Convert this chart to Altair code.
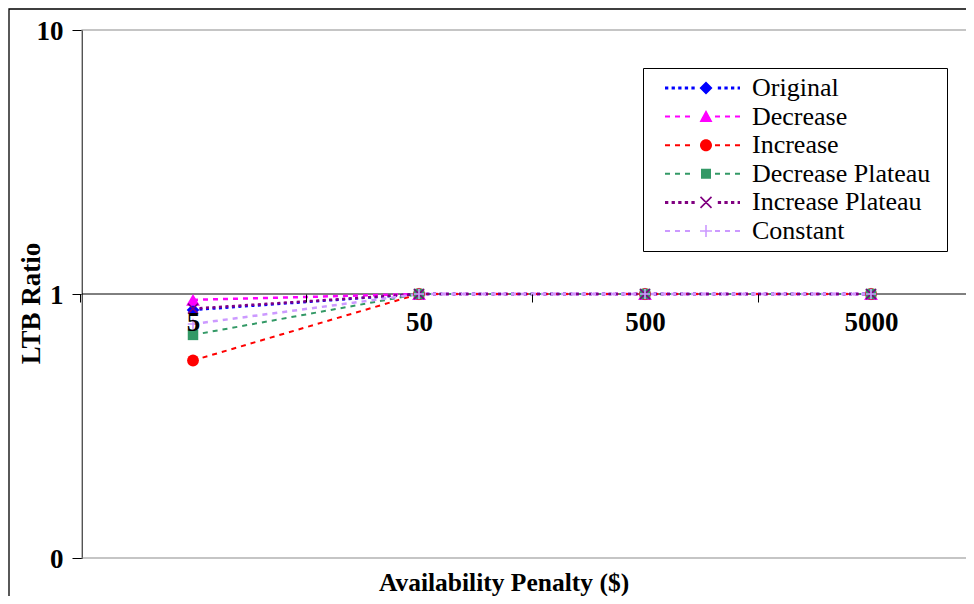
import math
import altair as alt
import pandas as pd

# ---------------- data ----------------
categories = ["5", "50", "500", "5000"]
series_names = ["Original", "Decrease", "Increase", "Decrease Plateau", "Increase Plateau", "Constant"]
original = [0.87, 1.0, 1.0, 1.0]
decrease = [0.95, 1.0, 1.0, 1.0]
increase = [0.56, 1.0, 1.0, 1.0]
decrease_plateau = [0.70, 1.0, 1.0, 1.0]
increase_plateau = [0.88, 1.0, 1.0, 1.0]
constant = [0.77, 1.0, 1.0, 1.0]
y_ticks = [0.1, 1, 10]
x_axis_crossing = 1.0

series_values = [original, decrease, increase, decrease_plateau, increase_plateau, constant]
rows = []
for name, vals in zip(series_names, series_values):
    for c, v in zip(categories, vals):
        rows.append({"penalty": c, "ratio": v, "series": name})
df = pd.DataFrame(rows)

# ---------------- styles ----------------
colors = ["#0000FF", "#FF00FF", "#FF0000", "#339966", "#800080", "#CC99FF"]
X_PATH = "M-1,-1L1,1M1,-1L-1,1"
PLUS_PATH = "M-1,0L1,0M0,-1L0,1"
marker_shape = ["diamond", "triangle-up", "circle", "square", X_PATH, PLUS_PATH]
marker_filled = [True, True, True, True, False, False]
marker_size = [160, 190, 140, 110, 100, 110]
line_dash = [[3, 3.5], [5, 5], [5, 5], [5, 5], [3, 3.5], [5, 5]]
line_width = [2.5, 2.5, 2, 2, 2.5, 2.5]
legend_dash = [(3.3, 3.3, 3.0), (5, 5, 2.0), (5, 5, 2.0), (5, 5, 2.0), (3.3, 3.3, 3.0), (5, 5, 2.0)]
legend_marker = ["diamond", "triangle", "circle", "square", "x", "plus"]

FONT = "Liberation Serif"
W, H = 884, 528

# legend symbol paths (line + marker), 1 unit = 10 px (symbol size 400)
U = 10.0
HALF = 3.75
M = 0.35
RIGHT_EXTENT = 23.75  # invisible bound so the legend box gets its right margin


def f(v):
    return f"{v:.3f}"


def rect(x0, x1, t):
    return f"M{f(x0)},{f(-t)}L{f(x1)},{f(-t)}L{f(x1)},{f(t)}L{f(x0)},{f(t)}Z"


def seg(p0, p1, w):
    dx, dy = p1[0] - p0[0], p1[1] - p0[1]
    L = math.hypot(dx, dy)
    nx, ny = -dy / L * w / 2, dx / L * w / 2
    pts = [(p0[0] + nx, p0[1] + ny), (p1[0] + nx, p1[1] + ny), (p1[0] - nx, p1[1] - ny), (p0[0] - nx, p0[1] - ny)]
    return "M" + "L".join(f"{f(a)},{f(b)}" for a, b in pts) + "Z"


def marker_path(kind):
    m = M
    if kind == "diamond":
        a = 0.65
        return f"M{f(m)},{f(-a)}L{f(m + a)},0L{f(m)},{f(a)}L{f(m - a)},0Z"
    if kind == "triangle":
        return f"M{f(m)},-0.65L{f(m + 0.65)},0.55L{f(m - 0.65)},0.55Z"
    if kind == "circle":
        r = 0.6
        return (f"M{f(m + r)},0A{r},{r} 0 1,1 {f(m - r)},0A{r},{r} 0 1,1 {f(m + r)},0Z")
    if kind == "square":
        return f"M{f(m - 0.5)},-0.5L{f(m + 0.5)},-0.5L{f(m + 0.5)},0.5L{f(m - 0.5)},0.5Z"
    if kind == "x":
        a = 0.55
        return seg((m - a, -a), (m + a, a), 0.16) + seg((m + a, -a), (m - a, a), 0.16)
    a = 0.6
    return seg((m - a, 0), (m + a, 0), 0.16) + seg((m, -a), (m, a), 0.16)


def legend_path(on, off, thick, kind):
    parts = [f"M{f(RIGHT_EXTENT)},0"]
    x = -HALF
    while x < HALF:
        x1 = min(x + on / U, HALF)
        if x1 <= M - 0.9 or x >= M + 0.9:
            parts.append(rect(x, x1, thick / 2 / U))
        x += (on + off) / U
    parts.append(marker_path(kind))
    return "".join(parts)


legend_paths = [legend_path(a, b, t, k) for (a, b, t), k in zip(legend_dash, legend_marker)]

# ---------------- encodings ----------------
x_enc = alt.X(
    "penalty:N",
    sort=categories,
    scale=alt.Scale(type="band", domain=categories, range=[-2, 902], paddingInner=0, paddingOuter=0),
    axis=alt.Axis(
        orient="bottom", offset=-264, title=None, labelAngle=0, tickBand="extent",
        labelFont=FONT, labelFontSize=27, labelFontWeight="bold", labelColor="black",
        labelPadding=7, tickSize=8, tickColor="black", domain=False,
        grid=False, zindex=1,
    ),
)
y_scale = alt.Scale(type="log", domain=[0.1, 10])
y_enc = alt.Y(
    "ratio:Q",
    scale=y_scale,
    axis=alt.Axis(
        values=y_ticks, format=".0f", grid=False,
        labelFont=FONT, labelFontSize=27, labelFontWeight="bold", labelColor="black",
        labelPadding=9, labelOffset=1.5, tickSize=10, tickColor="black", domainColor="black",
        title="LTB Ratio", titleFont=FONT, titleFontSize=27, titleFontWeight="bold",
        titleColor="black", titleX=-51, titleY=273, titleAngle=270, titleAlign="center",
        titleBaseline="middle",
    ),
)
color_scale = alt.Scale(domain=series_names, range=colors)
color_plain = alt.Color("series:N", scale=color_scale, legend=None)

legend_props = dict(
    orient="none", legendX=561, legendY=38, title=None, padding=7,
    strokeColor="black", fillColor="white", symbolSize=400, symbolOffset=39.5,
    labelOffset=36.5, rowPadding=2.6, symbolStrokeWidth=0, symbolOpacity=1,
    labelFont=FONT, labelFontSize=26, labelColor="black", labelLimit=400,
)

base = alt.Chart(df)
one = pd.DataFrame({"k": [0]})

# outer chart frame and plot-area border (decoration)
frame = alt.Chart(one).mark_rect(
    fillOpacity=0, stroke="black", strokeWidth=1.3
).encode(x=alt.value(-73), x2=alt.value(1000), y=alt.value(-21), y2=alt.value(580))
plot_border = alt.Chart(one).mark_rect(
    fillOpacity=0, stroke="#8c8c8c", strokeWidth=1.2
).encode(x=alt.value(0), x2=alt.value(1000), y=alt.value(0), y2=alt.value(H))

# category axis line crossing the value axis at 1 (drawn under the series)
cross_line = alt.Chart(one).mark_rule(color="black", strokeWidth=1).encode(
    y=alt.Y(datum=x_axis_crossing, scale=y_scale)
)

# legend carrier layer (no data rows, legend only) - must come first among colour layers
legend_layer = base.transform_filter("false").mark_point(
    filled=True, opacity=1, size=400, strokeWidth=0
).encode(
    x=x_enc,
    y=y_enc,
    color=alt.Color("series:N", scale=color_scale, legend=alt.Legend(**legend_props)),
    shape=alt.Shape("series:N", scale=alt.Scale(domain=series_names, range=legend_paths),
                    legend=alt.Legend(**legend_props)),
)

lines = []
points = []
for i, name in enumerate(series_names):
    sub = base.transform_filter(alt.datum.series == name)
    lines.append(
        sub.mark_line(strokeDash=line_dash[i], strokeWidth=line_width[i]).encode(
            x=x_enc, y=y_enc, color=color_plain
        )
    )
    points.append(
        sub.mark_point(
            filled=marker_filled[i], shape=marker_shape[i], size=marker_size[i],
            opacity=1, strokeWidth=1.6,
        ).encode(x=x_enc, y=y_enc, color=color_plain)
    )

chart = alt.layer(frame, plot_border, legend_layer, cross_line, *lines, *points).properties(
    width=W,
    height=H,
    autosize=alt.AutoSizeParams(type="none"),
    padding={"left": 74, "top": 22, "right": 0, "bottom": 38},
    title=alt.TitleParams(
        text="Availability Penalty ($)", orient="bottom", anchor="middle", frame="group",
        font=FONT, fontSize=25.5, fontWeight="bold", color="black", offset=-40, dx=-20,
    ),
).configure_view(strokeWidth=0)

chart.save("out.html", embed_options={"renderer": "svg", "actions": False})
